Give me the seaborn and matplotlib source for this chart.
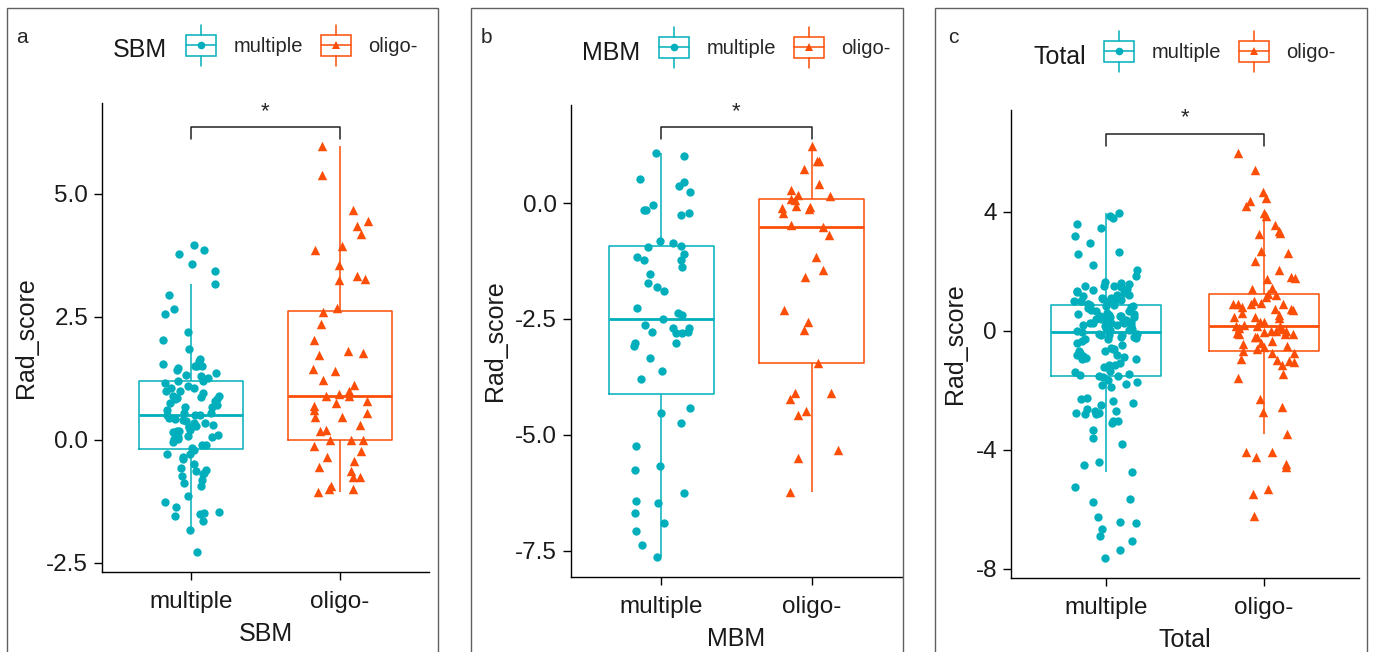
import numpy as np
import pandas as pd
import matplotlib
matplotlib.use('Agg')
import matplotlib.pyplot as plt
import seaborn as sns
from matplotlib.lines import Line2D
from matplotlib.patches import Rectangle
from matplotlib.legend_handler import HandlerBase

# --- data ---
groups = ['multiple', 'oligo-']

sbm_multiple = [3.96, 3.86, 3.77, 3.57, 3.43, 3.17, 2.95, 2.65, 2.56, 2.20, 2.03, 1.84,
                1.64, 1.45, 1.51, 1.51, 1.55, 1.51, 1.41, 1.32, 1.20, 1.20, 1.10, 1.05,
                1.05, 1.25, 1.00, 0.83, 0.67, 0.83, 0.89, 0.86, 0.79, 0.66, 0.55, 0.50,
                0.50, 0.50, 0.40, 0.42, 0.38, 0.25, 0.18, 0.18, 0.25, 0.30, 0.27, 0.05,
                0.01, 0.08, 0.01, -0.05, -0.16, -0.29, -0.29, -0.36, -0.68, -0.61, -0.70,
                -0.81, -0.87, -0.95, -0.74, -0.63, -0.57, -1.14, -1.27, -1.36, -1.46,
                -1.56, -1.66, -1.52, -1.49, -1.83, -2.29,
                1.15, 1.00, 0.90, 0.75, 0.60, 0.45, 0.35, 0.15, 0.10, -0.10, -0.20,
                0.95, 0.85, 0.70, 0.55, 0.35, 0.20, 0.05, -0.10,
                1.30, 1.35, 1.60, -0.40, -0.50]
sbm_oligo = [5.98, 5.39, 4.67, 4.35, 4.44, 4.18, 3.94, 3.86, 3.56, 3.27, 3.34, 3.24,
             2.68, 2.60, 2.35, 2.03, 1.76, 1.80, 1.73, 1.40, 1.43, 1.21, 1.12, 1.00,
             0.94, 0.89, 0.89, 0.79, 0.74, 0.68, 0.60, 0.47, 0.54, 0.47, 0.30, 0.17,
             0.20, -0.01, -0.01, 0.00, -0.12, -0.22, -0.36, -0.43, -0.56, -0.63, -0.76,
             -0.76, -0.95, -1.00, -1.07, -1.01]
mbm_multiple = [1.09, 1.02, 0.53, 0.46, 0.38, 0.24, -0.03, -0.14, -0.14, -0.25, -0.22,
                -0.85, -0.81, -0.94, -0.92, -1.10, -1.16, -1.23, -1.23, -1.38, -1.52,
                -1.73, -1.80, -1.90, -2.26, -2.42, -2.49, -2.37, -2.63, -2.70, -2.81,
                -2.77, -2.77, -2.70, -2.81, -3.09, -3.02, -3.02, -3.34, -3.62, -3.80,
                -4.43, -4.53, -4.75, -5.24, -5.67, -5.77, -6.26, -6.47, -6.68, -6.43,
                -6.90, -7.07, -7.38, -7.64]
mbm_oligo = [1.23, 0.91, 0.91, 0.73, 0.41, 0.28, 0.17, 0.15, 0.09, 0.06, -0.05,
             -0.09, -0.10, -0.22, -0.12, -0.46, -0.52, -0.68, -1.16, -1.45, -1.59,
             -2.30, -2.57, -2.73, -3.46, -4.23, -4.09, -4.09, -4.58, -4.49, -5.32,
             -5.50, -6.24]
# Total = SBM + MBM
total_multiple = sbm_multiple + mbm_multiple
total_oligo = sbm_oligo + mbm_oligo

yticks_a = [-2.5, 0.0, 2.5, 5.0]
yticks_b = [-7.5, -5.0, -2.5, 0.0]
yticks_c = [-8, -4, 0, 4]

# --- style ---
colors = {'multiple': '#00AFBB', 'oligo-': '#FC4E07'}
markers = {'multiple': 'o', 'oligo-': '^'}
msize = {'multiple': 6.0, 'oligo-': 6.8}

W, H = 1373, 652
sns.set_style('ticks')
plt.rcParams['font.family'] = ['Liberation Sans', 'DejaVu Sans']

# pixel layout of each panel
panels = [
    dict(tag='a', name='SBM', m=sbm_multiple, o=sbm_oligo, ticks=yticks_a, fmt='{:.1f}',
         frame=(7, 438), ax=(102, 429, 103, 572), ylim=(-2.69, 6.85),
         tag_xy=(16, 43), title_xy=(113, 57), leg_xy=(186, 47)),
    dict(tag='b', name='MBM', m=mbm_multiple, o=mbm_oligo, ticks=yticks_b, fmt='{:.1f}',
         frame=(471, 903), ax=(571, 902, 105, 577), ylim=(-8.07, 2.12),
         tag_xy=(481, 43), title_xy=(582, 60.5), leg_xy=(659, 49)),
    dict(tag='c', name='Total', m=total_multiple, o=total_oligo, ticks=yticks_c, fmt='{:.0f}',
         frame=(935, 1367), ax=(1011, 1359, 110, 578), ylim=(-8.31, 7.41),
         tag_xy=(948, 43), title_xy=(1033, 64), leg_xy=(1104, 53)),
]


class BoxKey(HandlerBase):
    # little boxplot glyph like ggplot's legend key
    def create_artists(self, legend, orig_handle, xdescent, ydescent, width, height,
                       fontsize, trans):
        c = orig_handle.get_color()
        x0 = -xdescent
        xm = x0 + width / 2
        yc = -ydescent + height / 2
        bh = fontsize * 1.0
        wh = fontsize * 0.5
        box = Rectangle((x0, yc - bh / 2), width, bh, fill=False, ec=c, lw=1.1,
                        transform=trans)
        med = Line2D([x0, x0 + width], [yc, yc], color=c, lw=1.1, transform=trans)
        w1 = Line2D([xm, xm], [yc + bh / 2, yc + bh / 2 + wh], color=c, lw=1.1, transform=trans)
        w2 = Line2D([xm, xm], [yc - bh / 2, yc - bh / 2 - wh], color=c, lw=1.1, transform=trans)
        pt = Line2D([xm], [yc], marker=orig_handle.get_marker(), color=c, ms=5.5, mew=0,
                    ls='none', transform=trans)
        return [box, med, w1, w2, pt]


np.random.seed(3)
fig = plt.figure(figsize=(W / 100, H / 100), dpi=100)

for p in panels:
    # panel frame
    f0, f1 = p['frame']
    fig.patches.append(Rectangle((f0 / W, -0.05), (f1 - f0) / W, 1.05 - 8 / H, fill=False,
                                 ec='#606060', lw=1.0, transform=fig.transFigure))
    l, r, t, b = p['ax']
    ax = fig.add_axes([l / W, 1 - b / H, (r - l) / W, (b - t) / H])

    df = pd.DataFrame({'group': ['multiple'] * len(p['m']) + ['oligo-'] * len(p['o']),
                       'Rad_score': p['m'] + p['o']})

    sns.boxplot(data=df, x='group', y='Rad_score', hue='group', order=groups,
                hue_order=groups, palette=colors, fill=False, width=0.7, dodge=False,
                showfliers=False, linewidth=1.1, legend=False, ax=ax,
                medianprops={'linewidth': 2.0}, capprops={'linewidth': 0})
    for g in groups:
        sns.stripplot(data=df[df['group'] == g], x='group', y='Rad_score', order=groups,
                      color=colors[g], marker=markers[g], size=msize[g], jitter=0.2,
                      linewidth=0, ax=ax)

    # significance bracket
    vals = np.array(p['m'] + p['o'])
    rng = vals.max() - vals.min()
    yb = vals.max() + 0.046 * rng
    ye = vals.max() + 0.017 * rng
    ax.plot([0, 0, 1, 1], [ye, yb, yb, ye], color='#222222', lw=1.1)
    ax.text(0.5, vals.max() + 0.085 * rng, '*', ha='center', va='center', fontsize=16)

    ax.set_xlim(-0.6, 1.6)
    ax.set_ylim(*p['ylim'])
    ax.set_yticks(p['ticks'])
    ax.set_yticklabels([p['fmt'].format(v) for v in p['ticks']])
    sns.despine(ax=ax)
    for s in ['left', 'bottom']:
        ax.spines[s].set_linewidth(1.0)
        ax.spines[s].set_color('black')
    ax.tick_params(axis='both', length=6, width=1.0, color='black', labelsize=17.5,
                   labelcolor='#1a1a1a')
    ax.tick_params(axis='x', pad=8)
    ax.tick_params(axis='y', pad=4)
    ax.set_xlabel(p['name'], fontsize=18, labelpad=6, color='#1a1a1a')
    ax.set_ylabel('Rad_score', fontsize=18, labelpad=6, color='#1a1a1a')

    # panel tag, legend title and legend
    tx, ty = p['tag_xy']
    fig.text(tx / W, 1 - ty / H, p['tag'], fontsize=15, va='baseline', ha='left')
    hx, hy = p['title_xy']
    fig.text(hx / W, 1 - hy / H, p['name'], fontsize=18, va='baseline', ha='left',
             color='#1a1a1a')
    handles = [Line2D([], [], color=colors[g], marker=markers[g]) for g in groups]
    lx, ly = p['leg_xy']
    ax.legend(handles, groups, loc='center left', bbox_to_anchor=(lx / W, 1 - ly / H),
              bbox_transform=fig.transFigure, ncol=2, frameon=False, handlelength=1.5,
              handletextpad=0.85, columnspacing=0.9, borderpad=0, borderaxespad=0,
              handler_map={Line2D: BoxKey()}, fontsize=14.5)

fig.savefig('out.png', dpi=100)
